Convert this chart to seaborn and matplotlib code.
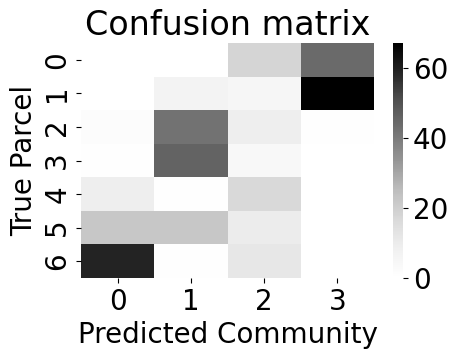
import numpy as np
import pandas as pd
import matplotlib
matplotlib.use("Agg")
import matplotlib.pyplot as plt
import seaborn as sns

rows = ["0", "1", "2", "3", "4", "5", "6"]
cols = ["0", "1", "2", "3"]
col0 = [0, 0, 2, 1, 9, 22, 59]
col1 = [0, 7, 42, 46, 1, 22, 1]
col2 = [18, 5, 9, 4, 17, 10, 12]
col3 = [44, 67, 1, 0, 0, 0, 0]

df = pd.DataFrame({"0": col0, "1": col1, "2": col2, "3": col3}, index=rows)

fig = plt.figure(figsize=(4.59, 3.59), dpi=100)
ax = fig.add_axes([81/459, 81/359, 293/459, 235/359])
cax = fig.add_axes([393/459, 81/359, 10/459, 235/359])

sns.heatmap(df, cmap="Greys", vmin=0, ax=ax, cbar_ax=cax)
ax.set_title("Confusion matrix", fontsize=24)
ax.set_xlabel("Predicted Community", fontsize=20)
ax.set_ylabel("True Parcel", fontsize=20)
ax.tick_params(axis="both", labelsize=20)
plt.setp(ax.get_yticklabels(), rotation=90, va="center")
plt.setp(ax.get_xticklabels(), rotation=0)
cax.tick_params(labelsize=20)
cax.set_yticks([0, 20, 40, 60])

fig.savefig("out.png", dpi=100)
